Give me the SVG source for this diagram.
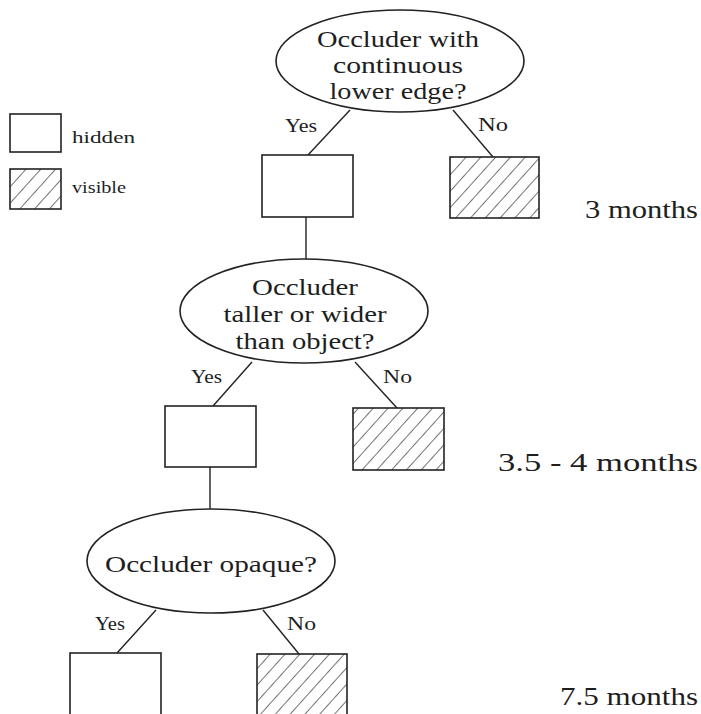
<svg xmlns="http://www.w3.org/2000/svg" width="701" height="714" viewBox="0 0 701 714">
  <style>
    .q { fill: #fff; stroke: #222; stroke-width: 1.6; }
    .box { fill: #fff; stroke: #222; stroke-width: 1.6; }
    .vis { fill: url(#hatch); stroke: #222; stroke-width: 1.6; }
    .edge { stroke: #222; stroke-width: 1.4; fill: none; }
    text { font-family: "Liberation Serif", "Times New Roman", serif; fill: #1e1e1e; }
    .lbl { font-size: 23px; text-anchor: middle; }
    .yn { font-size: 19px; }
    .age { font-size: 26px; }
    .key { font-size: 17px; }
  </style>
  <defs>
    <pattern id="hatch" patternUnits="userSpaceOnUse" width="11" height="11" patternTransform="rotate(42)">
      <rect width="11" height="11" fill="#fff"/>
      <line x1="0" y1="0" x2="0" y2="11" stroke="#2a2a2a" stroke-width="1.3"/>
    </pattern>
  </defs>
  <rect width="701" height="714" fill="#fff"/>

  <!-- legend -->
  <g id="legend">
    <rect class="box" x="10" y="114" width="51" height="38"/>
    <text class="key" x="72" y="143" textLength="63" lengthAdjust="spacingAndGlyphs">hidden</text>
    <rect class="vis" x="10" y="169" width="51" height="40"/>
    <text class="key" x="72" y="193" textLength="54" lengthAdjust="spacingAndGlyphs">visible</text>
  </g>

  <!-- connectors -->
  <g id="connectors">
    <line class="edge" x1="350" y1="110" x2="308" y2="155"/>
    <line class="edge" x1="453" y1="110" x2="493" y2="157"/>
    <line class="edge" x1="306" y1="217" x2="306" y2="259"/>
    <line class="edge" x1="252" y1="362" x2="213" y2="406"/>
    <line class="edge" x1="355" y1="362" x2="397" y2="408"/>
    <line class="edge" x1="210" y1="467" x2="210" y2="509"/>
    <line class="edge" x1="156" y1="610" x2="117" y2="653"/>
    <line class="edge" x1="263" y1="610" x2="299" y2="654"/>
    <text class="yn" x="285" y="132" textLength="32" lengthAdjust="spacingAndGlyphs">Yes</text>
    <text class="yn" x="478" y="131" textLength="30" lengthAdjust="spacingAndGlyphs">No</text>
    <text class="yn" x="191" y="383" textLength="31" lengthAdjust="spacingAndGlyphs">Yes</text>
    <text class="yn" x="383" y="383" textLength="29" lengthAdjust="spacingAndGlyphs">No</text>
    <text class="yn" x="95" y="630" textLength="30" lengthAdjust="spacingAndGlyphs">Yes</text>
    <text class="yn" x="287" y="630" textLength="29" lengthAdjust="spacingAndGlyphs">No</text>
  </g>

  <!-- 3 months -->
  <g id="q1">
    <ellipse class="q" cx="400" cy="61" rx="124" ry="51"/>
    <text class="lbl" x="398" y="47" textLength="162" lengthAdjust="spacingAndGlyphs">Occluder with</text>
    <text class="lbl" x="398" y="73" textLength="130" lengthAdjust="spacingAndGlyphs">continuous</text>
    <text class="lbl" x="398" y="99" textLength="137" lengthAdjust="spacingAndGlyphs">lower edge?</text>
  </g>
  <g id="q1-yes"><rect class="box" x="262" y="155" width="91" height="62"/></g>
  <g id="q1-no"><rect class="vis" x="450" y="157" width="89" height="61"/></g>
  <text class="age" x="585" y="218" textLength="113" lengthAdjust="spacingAndGlyphs">3 months</text>

  <!-- 3.5 - 4 months -->
  <g id="q2">
    <ellipse class="q" cx="304" cy="311" rx="124" ry="52"/>
    <text class="lbl" x="305" y="295" textLength="106" lengthAdjust="spacingAndGlyphs">Occluder</text>
    <text class="lbl" x="305" y="322" textLength="163" lengthAdjust="spacingAndGlyphs">taller or wider</text>
    <text class="lbl" x="305" y="349" textLength="139" lengthAdjust="spacingAndGlyphs">than object?</text>
  </g>
  <g id="q2-yes"><rect class="box" x="165" y="406" width="91" height="61"/></g>
  <g id="q2-no"><rect class="vis" x="353" y="408" width="91" height="62"/></g>
  <text class="age" x="498" y="471" textLength="200" lengthAdjust="spacingAndGlyphs">3.5 - 4 months</text>

  <!-- 7.5 months -->
  <g id="q3">
    <ellipse class="q" cx="211" cy="561" rx="124" ry="52"/>
    <text class="lbl" x="211" y="572" font-size="25" textLength="212" lengthAdjust="spacingAndGlyphs">Occluder opaque?</text>
  </g>
  <g id="q3-yes"><rect class="box" x="70" y="653" width="91" height="70"/></g>
  <g id="q3-no"><rect class="vis" x="257" y="654" width="90" height="70"/></g>
  <text class="age" x="560" y="705" textLength="138" lengthAdjust="spacingAndGlyphs">7.5 months</text>
</svg>
